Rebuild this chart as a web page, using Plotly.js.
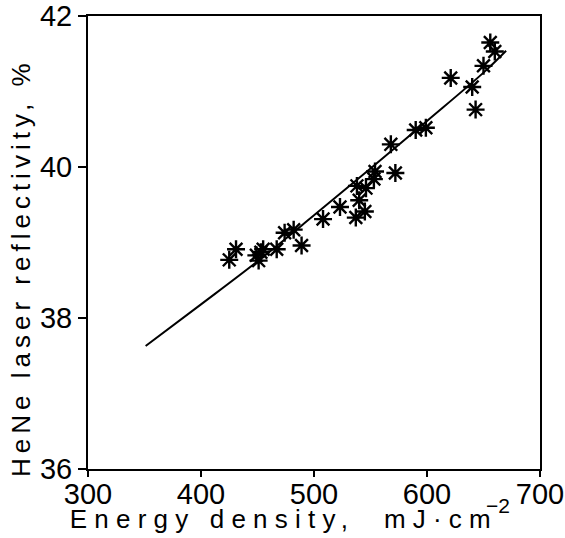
<!DOCTYPE html>
<html>
<head>
<meta charset="utf-8">
<script src="https://cdn.plot.ly/plotly-3.0.1.min.js"></script>
<style>
  html, body { margin: 0; padding: 0; background: #fff; }
  #chart { width: 565px; height: 538px; }
  .annotation[data-index="0"] .annotation-text { letter-spacing: 7.2px; }
  .annotation[data-index="1"] .annotation-text { letter-spacing: 5px; }
</style>
</head>
<body>
<div id="chart"></div>
<script>
// Measured points: energy density (mJ/cm^2) vs HeNe reflectivity (%)
const energyDensity = [425, 431, 449, 451, 453, 455, 467, 474, 482, 489,
                       508, 523, 537, 538, 540, 545, 546, 553, 554, 572,
                       568, 590, 599, 621, 640, 643, 650, 656, 660];
const reflectivity  = [38.77, 38.91, 38.83, 38.76, 38.87, 38.91, 38.91, 39.13, 39.17, 38.96,
                       39.31, 39.47, 39.33, 39.75, 39.56, 39.41, 39.72, 39.84, 39.94, 39.92,
                       40.30, 40.49, 40.52, 41.18, 41.06, 40.76, 41.34, 41.65, 41.53];

// Fitted curve
const fitEnergy       = [351, 400, 450, 500, 550, 600, 650, 670];
const fitReflectivity = [37.63, 38.18, 38.75, 39.36, 39.98, 40.61, 41.25, 41.54];

// Axis ticks
const xTicks = [300, 400, 500, 600, 700];
const yTicks = [36, 38, 40, 42];

const xTitle = 'Energy density,  mJ\u00b7cm';
const xTitleExponent = '\u22122';
const yTitle = 'HeNe laser reflectivity, %';

const tickFont = {family: 'Liberation Sans, Arial, sans-serif', size: 29, color: '#000'};
const titleFont = {family: 'Liberation Sans, Arial, sans-serif', size: 26, color: '#000'};
const expFont = {family: 'Liberation Sans, Arial, sans-serif', size: 21, color: '#000'};

const traces = [
  {
    x: fitEnergy, y: fitReflectivity, type: 'scatter', mode: 'lines',
    line: {color: '#000', width: 2, shape: 'spline'},
    hoverinfo: 'skip', showlegend: false
  },
  {
    x: energyDensity, y: reflectivity, type: 'scatter', mode: 'markers',
    marker: {symbol: 'asterisk-open', size: 15, color: '#000', line: {color: '#000', width: 2.4}},
    showlegend: false
  }
];

const axisCommon = {
  showline: true, linecolor: '#000', linewidth: 2, mirror: true,
  ticks: 'outside', tickwidth: 2, tickcolor: '#000',
  showgrid: false, zeroline: false, tickfont: tickFont
};

const layout = {
  width: 565, height: 538,
  margin: {l: 88, r: 25, t: 16, b: 69},
  paper_bgcolor: '#fff', plot_bgcolor: '#fff',
  xaxis: Object.assign({}, axisCommon, {range: [300, 700], tickvals: xTicks, ticktext: xTicks.map(String),
                                        ticklen: 6, ticklabelposition: 'outside', ticklabelstandoff: -8}),
  yaxis: Object.assign({}, axisCommon, {range: [36, 42], tickvals: yTicks, ticktext: yTicks.map(String),
                                        ticklen: 8}),
  annotations: [
    {
      text: xTitle, font: titleFont, showarrow: false,
      xref: 'paper', yref: 'paper', x: 0.433, xanchor: 'center', y: -0.11, yanchor: 'middle'
    },
    {
      text: yTitle, font: titleFont, showarrow: false, textangle: -90,
      xref: 'paper', yref: 'paper', x: -0.148, xanchor: 'center', y: 0.444, yanchor: 'middle'
    },
    {
      text: xTitleExponent, font: expFont, showarrow: false,
      xref: 'paper', yref: 'paper', x: 0.907, xanchor: 'center', y: -0.0795, yanchor: 'middle'
    }
  ]
};

Plotly.newPlot('chart', traces, layout, {displayModeBar: false, staticPlot: true});
</script>
</body>
</html>
